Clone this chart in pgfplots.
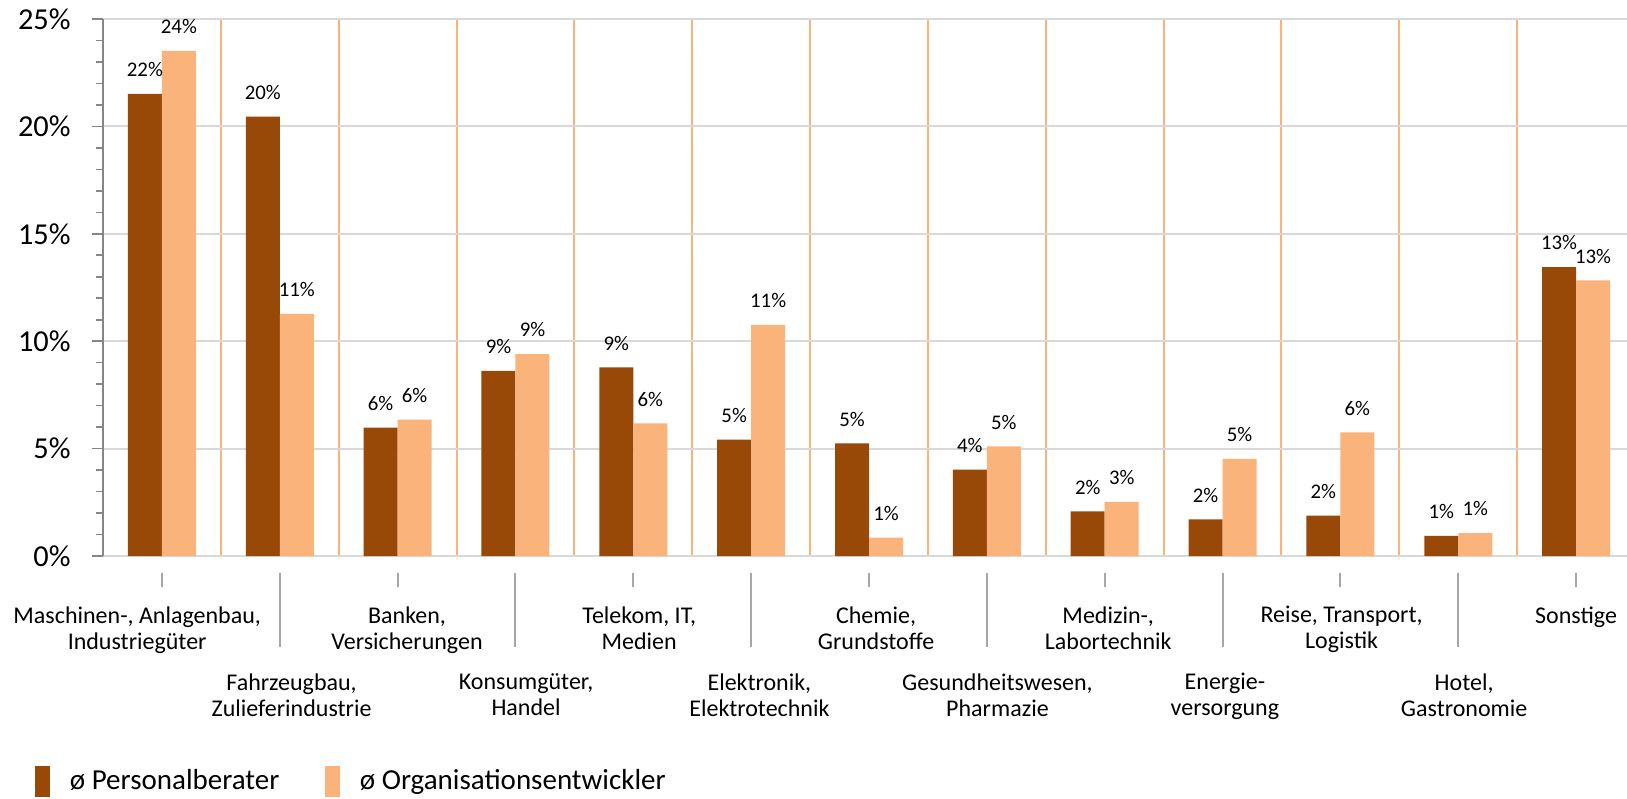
\documentclass[border=0pt]{standalone}
\usepackage{fontspec}
\setmainfont{Carlito}
\usepackage{pgfplots}
\usepackage{pgfplotstable}
\pgfplotsset{compat=1.18}
\definecolor{darkbar}{HTML}{984807}
\definecolor{lightbar}{HTML}{F9B37B}
\definecolor{sepline}{HTML}{F9B37B}
\definecolor{gridgray}{HTML}{D9D9D9}
\definecolor{axisgray}{HTML}{868686}
\definecolor{tickgray}{HTML}{A6A6A6}
\pgfplotstableread{
x dark light
0 21.52 23.52
1 20.46 11.27
2 5.98 6.35
3 8.62 9.40
4 8.78 6.17
5 5.42 10.76
6 5.24 0.85
7 4.02 5.10
8 2.08 2.52
9 1.70 4.52
10 1.88 5.75
11 0.94 1.07
12 13.45 12.83
}\datatable
\begin{document}
\begin{tikzpicture}
\begin{axis}[
  scale only axis, width=762pt, height=268.5pt,
  xmin=-0.5, xmax=12.432, ymin=0, ymax=25,
  ybar=0pt, bar width=17pt,
  axis lines*=left,
  x axis line style={gridgray, line width=1pt},
  y axis line style={axisgray, line width=1pt},
  ytick={0,5,...,25},
  minor y tick num=4,
  tick align=outside,
  major tick length=5.5pt, minor tick length=3.5pt,
  tick style={axisgray, line width=0.8pt},
  major x tick style={draw=none},
  minor x tick style={draw=none},
  ymajorgrids, major grid style={gridgray, line width=1pt},
  minor xtick={0.5,1.5,...,11.5}, xminorgrids, minor grid style={sepline, line width=1pt},
  xtick={-0.21,2.08,4.05,6.06,8.03,10.01,12.0},
  xticklabels={{Maschinen-, Anlagenbau,\\Industriegüter},{Banken,\\Versicherungen},{Telekom, IT,\\Medien},{Chemie,\\Grundstoffe},{Medizin-,\\Labortechnik},{Reise, Transport,\\Logistik},{Sonstige}},
  extra x ticks={1.10,3.09,5.07,7.09,9.02,11.05},
  extra x tick labels={{Fahrzeugbau,\\Zulieferindustrie},{Konsumgüter,\\Handel},{Elektronik,\\Elektrotechnik},{Gesundheitswesen,\\Pharmazie},{Energie-\\versorgung},{Hotel,\\Gastronomie}},
  extra x tick style={xticklabel style={yshift=-33.5pt}},
  /pgf/number format/assume math mode=true,
  yticklabel={\pgfmathprintnumber{\tick}\%},
  yticklabel style={font=\fontsize{15.2}{18}\selectfont, anchor=east, inner sep=0pt, xshift=-10.5pt},
  xticklabel style={font=\fontsize{12}{13}\selectfont, align=center, anchor=north, inner sep=0pt, yshift=-19.5pt},
  nodes near coords={\pgfmathprintnumber[fixed,precision=0]{\pgfplotspointmeta}\%},
  nodes near coords style={font=\fontsize{10.4}{12}\selectfont, yshift=5pt},
  legend columns=2,
  legend style={at={(axis description cs:0,0)}, anchor=west, xshift=-34pt, yshift=-112.5pt,
    draw=none, fill=none, inner sep=0pt, nodes={inner sep=0pt},
    font=\fontsize{14.5}{17}\selectfont, column sep=9.75pt,
    /tikz/every even column/.append style={column sep=23pt}},
  clip=false,
]
\addplot[fill=darkbar, draw=none, legend image code/.code={\fill[darkbar] (0pt,-7.75pt) rectangle (7.5pt,7.75pt);}] table[x=x, y=dark] {\datatable};
\addlegendentry{ø Personalberater}
\addplot[fill=lightbar, draw=none, legend image code/.code={\fill[lightbar] (0pt,-7.75pt) rectangle (7.5pt,7.75pt);}] table[x=x, y=light] {\datatable};
\addlegendentry{ø Organisationsentwickler}
\pgfplotsinvokeforeach{0,2,4,6,8,10,12}{\draw[tickgray, line width=1pt] (axis cs:#1,0) ++(0pt,-8.5pt) -- ++(0pt,-7pt);}
\pgfplotsinvokeforeach{1,3,5,7,9,11}{\draw[tickgray, line width=1pt] (axis cs:#1,0) ++(0pt,-8.5pt) -- ++(0pt,-37pt);}
\end{axis}
\pgfresetboundingbox
\path ([shift={(-51.5pt,-121pt)}]current axis.south west) rectangle ([shift={(0pt,9.5pt)}]current axis.north east);
\end{tikzpicture}
\end{document}
